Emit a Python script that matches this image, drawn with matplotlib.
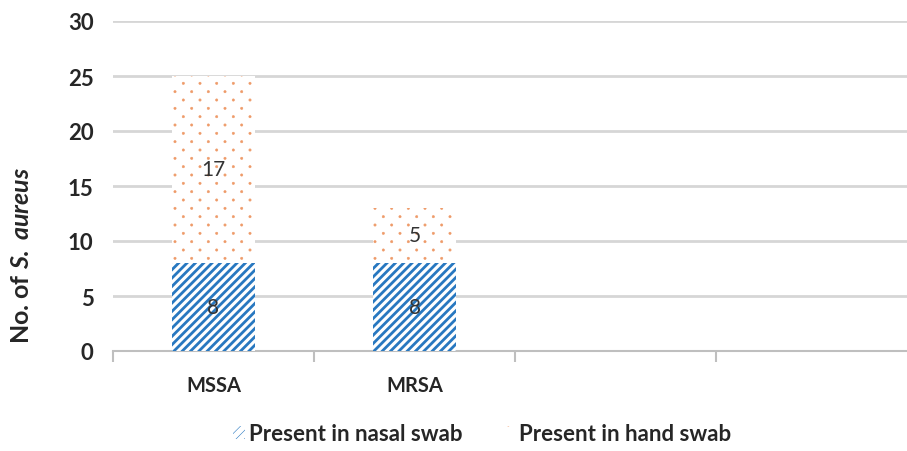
import matplotlib
matplotlib.use("Agg")
import numpy as np
import matplotlib.pyplot as plt
import matplotlib.hatch as mhatch
from matplotlib.patches import Patch
from matplotlib.path import Path

# Counts of S. aureus isolates by type and swab site
categories = ["MSSA", "MRSA", "", ""]
nasal = [8, 8, 0, 0]
hand = [17, 5, 0, 0]
yticks = [0, 5, 10, 15, 20, 25, 30]

blue = "#2878C0"
orange = "#EE9A68"
grid_c = "#D6D6D6"
text_c = "#262626"


class SparseDots(mhatch.HatchPatternBase):
    """Small dots on a staggered grid: rows twice as dense as columns."""
    radius = 0.0115  # inches

    def __init__(self, hatch, density):
        n = hatch.count('.') * density
        circ = Path.unit_circle()
        self.shape_vertices = circ.vertices
        self.shape_codes = circ.codes
        pts = []
        nrows = 2 * n
        for r in range(nrows + 1):
            y = r / nrows if nrows else 0
            if r % 2 == 0:
                xs = np.linspace(0, 1, n + 1)
            else:
                xs = np.linspace(0.5 / n, 1 - 0.5 / n, n) if n else []
            for xx in xs:
                pts.append((xx, y))
        self.pts = pts
        self.num_vertices = len(pts) * len(self.shape_vertices) if n else 0

    def set_vertices_and_codes(self, vertices, codes):
        np.concatenate([self.shape_vertices * self.radius + p for p in self.pts],
                       out=vertices)
        np.concatenate([self.shape_codes] * len(self.pts), out=codes)


mhatch._hatch_types = [SparseDots if t is mhatch.SmallFilledCircles else t
                       for t in mhatch._hatch_types]

plt.rcParams["font.family"] = ["Lato", "DejaVu Sans"]
plt.rcParams["mathtext.fontset"] = "custom"
plt.rcParams["mathtext.it"] = "Lato:italic:bold"
plt.rcParams["mathtext.rm"] = "Lato:bold"

W, H = 907, 452
fig = plt.figure(figsize=(W / 100, H / 100), dpi=100)
ax = fig.add_axes([113 / W, 1 - 352 / H, 804 / W, 330 / H])

x = list(range(len(categories)))
bw = 0.41

plt.rcParams["hatch.linewidth"] = 2.0
ax.bar(x, nasal, width=bw, color="white", edgecolor=blue, hatch="////",
       linewidth=0, zorder=3)
plt.rcParams["hatch.linewidth"] = 0.4
ax.bar(x, hand, width=bw, bottom=nasal, color="white", edgecolor=orange,
       hatch=".", linewidth=0, zorder=3)

# value labels in the middle of each segment
for i in range(len(categories)):
    if nasal[i]:
        ax.text(x[i], nasal[i] / 2, str(nasal[i]), ha="center", va="center",
                fontsize=15, color="#333333", zorder=5)
    if hand[i]:
        ax.text(x[i], nasal[i] + hand[i] / 2, str(hand[i]), ha="center",
                va="center", fontsize=15, color="#333333", zorder=5)

ax.set_xlim(-0.5, len(categories) - 0.5)
ax.set_ylim(0, 30)
ax.set_yticks(yticks)
ax.set_yticklabels([str(v) for v in yticks], fontsize=16, fontweight="bold",
                   color=text_c)
ax.yaxis.grid(True, color=grid_c, linewidth=2.0, zorder=0)
ax.set_axisbelow(True)
ax.tick_params(axis="y", length=0, pad=14)

ax.set_xticks(x)
ax.set_xticklabels(categories, fontsize=14.5, fontweight="bold", color=text_c)
ax.set_xticks([i - 0.5 for i in range(len(categories) + 1)], minor=True)
ax.tick_params(axis="x", which="major", length=0, pad=17)
ax.tick_params(axis="x", which="minor", length=8, width=1.5, color="#BFBFBF")

for s in ["top", "right", "left"]:
    ax.spines[s].set_visible(False)
ax.spines["bottom"].set_color("#BFBFBF")
ax.spines["bottom"].set_linewidth(1.5)

fig.text(22 / W, 1 - 255 / H, r"No. of $\mathit{S.\ aureus}$", rotation=90,
         ha="center", va="center", fontsize=18, fontweight="bold", color=text_c)

handles = [
    Patch(facecolor="white", edgecolor=blue, hatch="////", linewidth=0),
    Patch(facecolor="white", edgecolor=orange, hatch=".", linewidth=0),
]
fig.legend(handles, ["Present in nasal swab", "Present in hand swab"],
           loc="center", bbox_to_anchor=(482 / W, 1 - 435 / H), ncol=2,
           frameon=False, handlelength=0.55, handleheight=0.55,
           handletextpad=0.2, columnspacing=1.8,
           prop={"weight": "bold", "size": 16}, labelcolor=text_c)

fig.savefig("out.png", dpi=100, facecolor="white")
